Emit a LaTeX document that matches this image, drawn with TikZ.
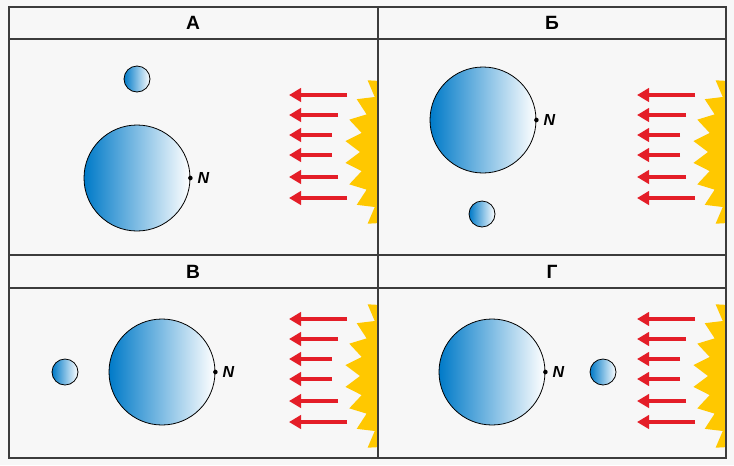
\documentclass[tikz,border=0pt]{standalone}
\usepackage{fontspec}
\setsansfont{Liberation Sans}
\definecolor{bg}{RGB}{247,247,247}
\definecolor{frame}{RGB}{60,60,60}
\definecolor{earthdark}{RGB}{0,122,200}
\definecolor{raycol}{RGB}{228,30,40}
\definecolor{suncol}{RGB}{255,200,0}
\tikzset{
	body/.style={draw=black, line width=0.6pt, left color=earthdark, right color=white},
	ray/.style={raycol, line width=3pt, -{Triangle[length=9pt, width=10pt]}},
	head/.style={font=\sffamily\bfseries\Large},
	north/.style={font=\sffamily\bfseries\itshape\large, anchor=west},
	ndot/.style={circle, fill=black, inner sep=1.2pt},
}
\usetikzlibrary{arrows.meta}
% Sun and rays, local origin = panel offset
\newcommand{\lightside}[2]{%
	\begin{scope}[shift={(#1,#2)}]
		\fill[suncol] plot[samples at={-80,-75,...,80}]
			({470-(110+15*mod(round((\x+80)/5),2))*cos(\x)}, {152+(110+15*mod(round((\x+80)/5),2))*sin(\x)});
		\foreach \y/\t in {95/347, 115/338, 135/332, 155/332, 177/338, 198/347}
			\draw[ray] (\t,\y) -- (289,\y);
	\end{scope}}
\begin{document}
\begin{tikzpicture}[x=0.75pt, y=-0.75pt]
	\useasboundingbox (0,0) rectangle (734,465);
	\fill[bg] (0,0) rectangle (734,465);

	%% Panel A
	\begin{scope}
		\clip (9,39) rectangle (378,255);
		\lightside{0}{0}
	\end{scope}
	\node[body, circle, minimum size=19.5pt] (moonA) at (137,79) {};
	\node[body, circle, minimum size=79.5pt] (earthA) at (137,178) {};
	\node[ndot] (nA) at (earthA.east) {};
	\node[north] at (nA.east) {N};

	%% Panel B
	\begin{scope}
		\clip (378,39) rectangle (726,255);
		\lightside{348}{0}
	\end{scope}
	\node[body, circle, minimum size=79.5pt] (earthB) at (483,120) {};
	\node[body, circle, minimum size=19.5pt] (moonB) at (482,214) {};
	\node[ndot] (nB) at (earthB.east) {};
	\node[north] at (nB.east) {N};

	%% Panel C
	\begin{scope}
		\clip (9,288) rectangle (378,458);
		\lightside{0}{224}
	\end{scope}
	\node[body, circle, minimum size=19.5pt] (moonC) at (65,372) {};
	\node[body, circle, minimum size=79.5pt] (earthC) at (162,372) {};
	\node[ndot] (nC) at (earthC.east) {};
	\node[north] at (nC.east) {N};

	%% Panel D
	\begin{scope}
		\clip (378,288) rectangle (726,458);
		\lightside{348}{224}
	\end{scope}
	\node[body, circle, minimum size=79.5pt] (earthD) at (492,372) {};
	\node[body, circle, minimum size=19.5pt] (moonD) at (603,372) {};
	\node[ndot] (nD) at (earthD.east) {};
	\node[north] at (nD.east) {N};

	%% Frame and headers
	\draw[frame, line width=1.8pt] (9,7) rectangle (726,458);
	\draw[frame, line width=1.8pt] (378,7) -- (378,458);
	\draw[frame, line width=1.8pt] (9,39) -- (726,39);
	\draw[frame, line width=1.8pt] (9,255) -- (726,255);
	\draw[frame, line width=1.8pt] (9,288) -- (726,288);
	\node[head] (hA) at (193,23) {А};
	\node[head] (hB) at (552,23) {Б};
	\node[head] (hC) at (193,272) {В};
	\node[head] (hD) at (552,272) {Г};
\end{tikzpicture}
\end{document}
